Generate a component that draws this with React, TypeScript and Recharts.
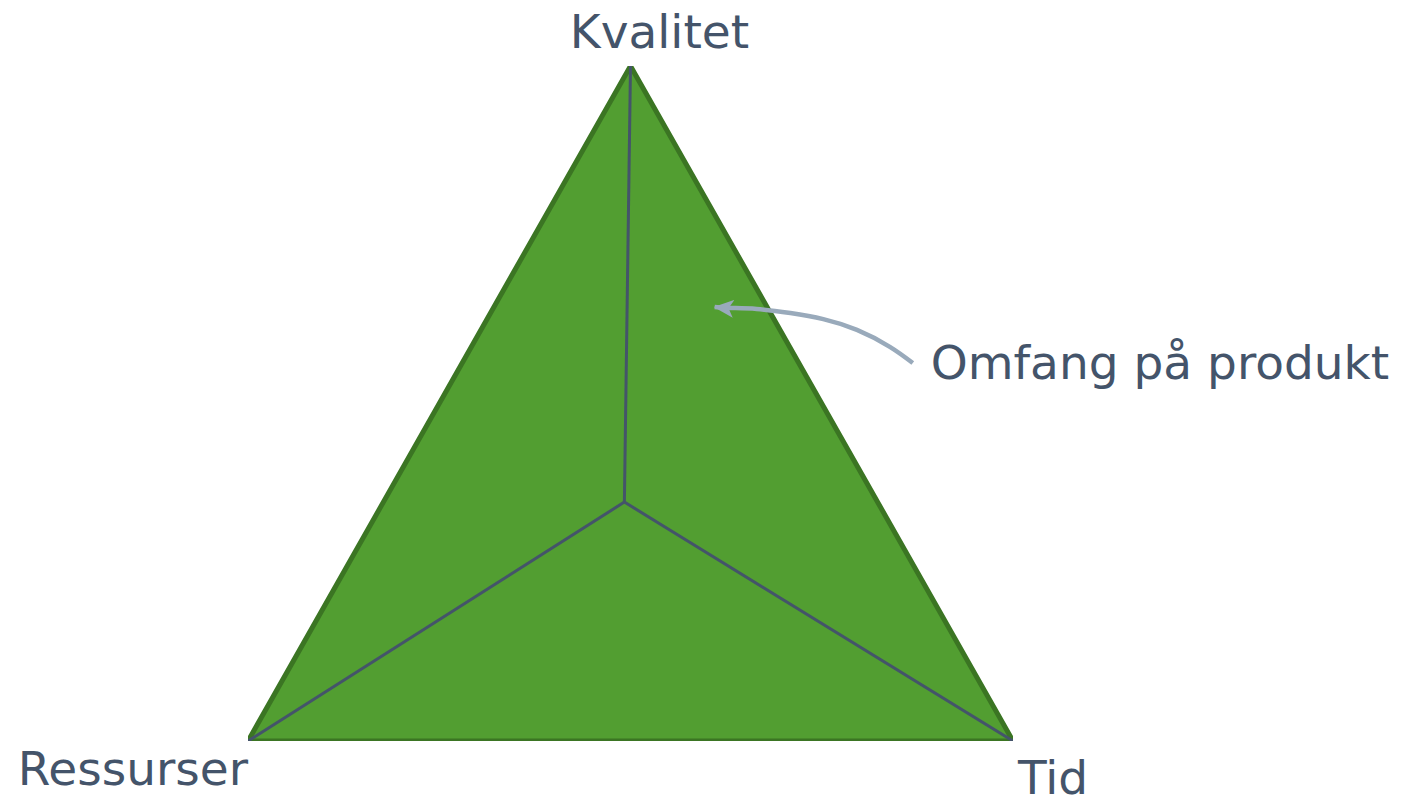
import React from "react"
import { ComposedChart, Area, Line, XAxis, YAxis, ReferenceDot } from "recharts"

// triangle corners in a 0-100 space: Ressurser, Kvalitet, Tid
const corners = [
  { name: "Ressurser", x: 0, y: 0 },
  { name: "Kvalitet", x: 50, y: 100 },
  { name: "Tid", x: 100, y: 0 },
]
const outline = [...corners, corners[0]]
// the point where the three spokes meet
const hub = { x: 49.2, y: 35.4 }
// curved pointer from the caption into the triangle
const pointer = [
  { x: 86.9, y: 56.0 },
  { x: 83.9, y: 58.4 },
  { x: 79.6, y: 60.9 },
  { x: 75.2, y: 62.5 },
  { x: 70.9, y: 63.4 },
  { x: 66.5, y: 64.0 },
  { x: 63.0, y: 64.15 },
  { x: 61.0, y: 64.3 },
]
const caption = "Omfang på produkt"

const TEXT = "#44546A"
const FONT = "'DejaVu Sans', Verdana, sans-serif"

const textLabel = (value: string, dx: number, dy: number, anchor: "start" | "middle" | "end") =>
  (props: any) => {
    const vb = props.viewBox || { x: 0, y: 0, width: 0, height: 0 }
    const cx = vb.x + (vb.width || 0) / 2
    const cy = vb.y + (vb.height || 0) / 2
    return (
      <text x={cx + dx} y={cy + dy} textAnchor={anchor} fill={TEXT} fontSize={47} fontFamily={FONT}>
        {value}
      </text>
    )
  }

export default function App() {
  return (
    <div style={{ position: "absolute", left: 0, top: 0, width: 1408, height: 802, background: "#fff" }}>
      <ComposedChart
        width={1408}
        height={802}
        data={corners}
        margin={{ top: 66, right: 395, bottom: 61, left: 248 }}
      >
        <defs>
          <marker id="arrowHead" markerUnits="userSpaceOnUse" markerWidth={20} markerHeight={18} viewBox="0 0 20 18" refX={19} refY={9} orient="auto">
            <path d="M0,0 L20,9 L0,18 L5,9 z" fill="#99AABB" />
          </marker>
        </defs>
        <XAxis type="number" dataKey="x" domain={[0, 100]} allowDataOverflow hide />
        <YAxis type="number" domain={[0, 100]} allowDataOverflow hide />
        <Area
          type="linear"
          dataKey="y"
          fill="#529E31"
          fillOpacity={1}
          stroke="none"
          isAnimationActive={false}
        />
        <Line
          data={outline}
          type="linear"
          dataKey="y"
          stroke="#3B7523"
          strokeWidth={5}
          strokeLinejoin="round"
          dot={false}
          activeDot={false}
          isAnimationActive={false}
        />
        {corners.map(c => (
          <Line
            key={c.name}
            data={[hub, { x: c.x, y: c.y }]}
            type="linear"
            dataKey="y"
            stroke="#44546A"
            strokeWidth={3}
            dot={false}
            activeDot={false}
            isAnimationActive={false}
          />
        ))}
        <Line
          data={pointer}
          type="natural"
          dataKey="y"
          stroke="#99AABB"
          strokeWidth={4.5}
          markerEnd="url(#arrowHead)"
          dot={false}
          activeDot={false}
          isAnimationActive={false}
        />
        <ReferenceDot x={50} y={100} r={1} fill="none" stroke="none" label={textLabel("Kvalitet", 29, -18, "middle")} />
        <ReferenceDot x={0} y={0} r={1} fill="none" stroke="none" label={textLabel("Ressurser", 0, 44, "end")} />
        <ReferenceDot x={100} y={0} r={1} fill="none" stroke="none" label={textLabel("Tid", 5, 53, "start")} />
        <ReferenceDot x={pointer[0].x} y={pointer[0].y} r={1} fill="none" stroke="none" label={textLabel(caption, 18, 16, "start")} />
      </ComposedChart>
    </div>
  )
}
